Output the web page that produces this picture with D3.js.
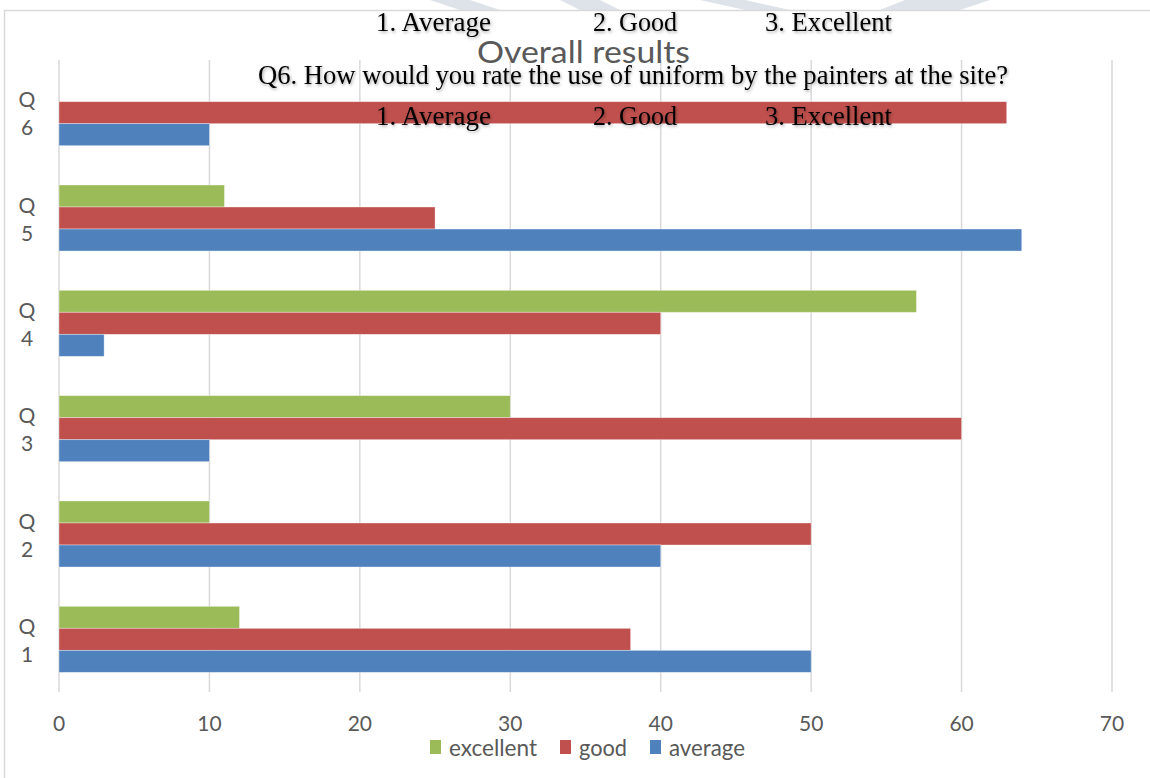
<!DOCTYPE html>
<html>
<head>
<meta charset="utf-8">
<script src="https://cdn.jsdelivr.net/npm/d3@7"></script>
<style>
  html, body { margin: 0; padding: 0; background: #fff; }
  svg { display: block; }
</style>
</head>
<body>
<svg id="chart" width="1150" height="778"></svg>
<script>
// data
var categories = ["Q6", "Q5", "Q4", "Q3", "Q2", "Q1"];
var seriesNames = ["excellent", "good", "average"];
var excellent = { Q1: 12, Q2: 10, Q3: 30, Q4: 57, Q5: 11, Q6: 0 };
var good = { Q1: 38, Q2: 50, Q3: 60, Q4: 40, Q5: 25, Q6: 63 };
var average = { Q1: 50, Q2: 40, Q3: 10, Q4: 3, Q5: 64, Q6: 10 };
var xTicks = [0, 10, 20, 30, 40, 50, 60, 70];
var optionLabels = ["1. Average", "2. Good", "3. Excellent"];
var questionText = "Q6. How would you rate the use of uniform by the painters at the site?";

var colors = { excellent: "#9BBB59", good: "#C0504D", average: "#4F81BD" };
var values = { excellent: excellent, good: good, average: average };

var svg = d3.select("#chart");
var sans = "Lato, 'Open Sans', sans-serif";
var serif = "'Liberation Serif', 'Times New Roman', serif";

// faint watermark strokes above the frame
var wm = svg.append("g").attr("fill", "#dde3e9");
[[430, 470, 500, 460], [560, 600, 620, 580], [700, 745, 790, 745], [905, 990, 960, 880]].forEach(function (p) {
    wm.append("path").attr("d", "M" + p[0] + ",0 L" + p[1] + ",0 L" + p[2] + ",10 L" + p[3] + ",10 Z");
});

// chart frame
svg.append("path")
    .attr("d", "M4.5,778 V10.5 H1150")
    .attr("fill", "none")
    .attr("stroke", "#d9d9d9")
    .attr("stroke-width", 1.5);

var plot = { left: 59, right: 1112, top: 60, bottom: 692 };

var x = d3.scaleLinear().domain([0, 70]).range([plot.left, plot.right]);
var y = d3.scaleBand().domain(categories).range([plot.top, plot.bottom])
    .paddingInner(0.373).paddingOuter(0.1865);
var ySub = d3.scaleBand().domain(seriesNames).range([0, y.bandwidth()]);

// gridlines
svg.append("g").selectAll("line").data(xTicks).join("line")
    .attr("x1", function (d) { return x(d); })
    .attr("x2", function (d) { return x(d); })
    .attr("y1", plot.top)
    .attr("y2", plot.bottom)
    .attr("stroke", "#d9d9d9")
    .attr("stroke-width", 1.5);

// x tick labels
svg.append("g").selectAll("text").data(xTicks).join("text")
    .attr("x", function (d) { return x(d); })
    .attr("y", 722)
    .attr("text-anchor", "middle")
    .attr("dominant-baseline", "central")
    .attr("font-family", sans)
    .attr("font-size", 21)
    .attr("fill", "#595959")
    .text(function (d) { return d; });

// category labels, split in two lines
var cat = svg.append("g").selectAll("g").data(categories).join("g")
    .attr("transform", function (d) { return "translate(27," + (y(d) + y.bandwidth() / 2) + ")"; });
cat.append("text").attr("y", -14).text(function (d) { return d.charAt(0); });
cat.append("text").attr("y", 14).text(function (d) { return d.slice(1); });
cat.selectAll("text")
    .attr("text-anchor", "middle")
    .attr("dominant-baseline", "central")
    .attr("font-family", sans)
    .attr("font-size", 21)
    .attr("fill", "#595959");

// bars
var groups = svg.append("g").selectAll("g").data(categories).join("g")
    .attr("transform", function (d) { return "translate(0," + y(d) + ")"; });
groups.selectAll("rect")
    .data(function (q) {
        return seriesNames.map(function (s) { return { q: q, s: s, v: values[s][q] }; })
            .filter(function (d) { return d.v > 0; });
    })
    .join("rect")
    .attr("x", x(0))
    .attr("y", function (d) { return ySub(d.s); })
    .attr("width", function (d) { return x(d.v) - x(0); })
    .attr("height", ySub.bandwidth())
    .attr("fill", function (d) { return colors[d.s]; })
    .attr("stroke", "#ffffff")
    .attr("stroke-opacity", 0.45)
    .attr("stroke-width", 0.8);

// title
svg.append("text")
    .attr("x", 477)
    .attr("y", 63)
    .attr("textLength", 213)
    .attr("lengthAdjust", "spacingAndGlyphs")
    .attr("font-family", sans)
    .attr("font-size", 31)
    .attr("fill", "#595959")
    .text("Overall results");

// legend
var legendW = { excellent: 88, good: 48, average: 76 };
var legend = svg.append("g").attr("transform", "translate(430,747)");
var lx = 0;
seriesNames.forEach(function (s) {
    legend.append("rect")
        .attr("x", lx).attr("y", -7)
        .attr("width", 11).attr("height", 14)
        .attr("fill", colors[s]);
    legend.append("text")
        .attr("x", lx + 19)
        .attr("dominant-baseline", "central")
        .attr("textLength", legendW[s])
        .attr("lengthAdjust", "spacingAndGlyphs")
        .attr("font-family", sans)
        .attr("font-size", 23)
        .attr("fill", "#595959")
        .text(s);
    lx += 19 + legendW[s] + 23;
});

// overlaid document text
var defs = svg.append("defs");
var f = defs.append("filter").attr("id", "glow").attr("x", "-5%").attr("y", "-30%")
    .attr("width", "110%").attr("height", "160%");
f.append("feDropShadow").attr("dx", 1).attr("dy", 1.5).attr("stdDeviation", 1.5)
    .attr("flood-color", "#000").attr("flood-opacity", 0.35);

var overlay = svg.append("g")
    .attr("font-family", serif)
    .attr("font-size", 27)
    .attr("fill", "#000")
    .attr("filter", "url(#glow)");
var optX = [376, 593, 765];
var optW = [115, 84, 127];
[31, 125].forEach(function (by) {
    optionLabels.forEach(function (t, i) {
        overlay.append("text")
            .attr("x", optX[i]).attr("y", by)
            .attr("textLength", optW[i])
            .attr("lengthAdjust", "spacingAndGlyphs")
            .text(t);
    });
});
overlay.append("text")
    .attr("x", 258).attr("y", 84)
    .attr("textLength", 750)
    .attr("lengthAdjust", "spacingAndGlyphs")
    .text(questionText);
</script>
</body>
</html>
